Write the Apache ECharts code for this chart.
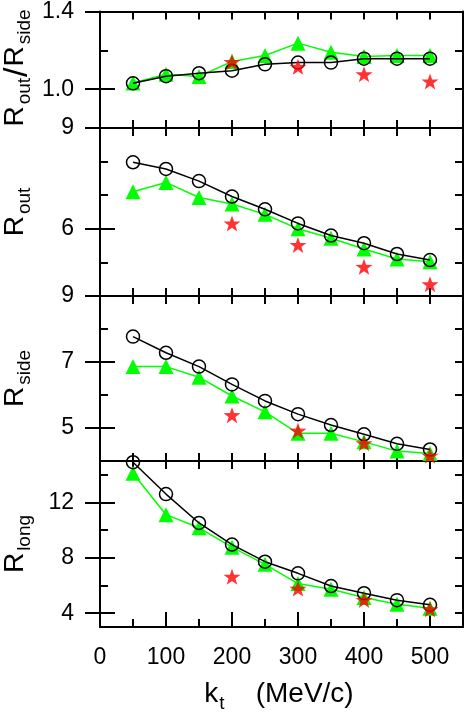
<!DOCTYPE html>
<html>
<head>
<meta charset="utf-8">
<script src="https://cdn.jsdelivr.net/npm/echarts@6/dist/echarts.min.js"></script>
<style>html,body{margin:0;padding:0;background:#fff}#c{width:464px;height:716px}</style>
</head>
<body>
<div id="c"></div>
<script>
// ---- data ----
const kt = [50, 100, 150, 200, 250, 300, 350, 400, 450, 500];
const ktStar = [200, 300, 400, 500];

const ratioCircle   = [1.030, 1.067, 1.082, 1.095, 1.128, 1.137, 1.137, 1.157, 1.157, 1.157];
const ratioTriangle = [1.032, 1.077, 1.065, 1.143, 1.173, 1.237, 1.190, 1.168, 1.173, 1.173];
const ratioStar     = [1.140, 1.115, 1.077, 1.040];

const routCircle   = [7.98, 7.78, 7.42, 6.96, 6.58, 6.16, 5.80, 5.57, 5.25, 5.07];
const routTriangle = [7.10, 7.38, 6.93, 6.74, 6.43, 6.00, 5.72, 5.40, 5.10, 5.02];
const routStar     = [6.16, 5.52, 4.87, 4.35];

const rsideCircle   = [7.77, 7.28, 6.86, 6.32, 5.82, 5.42, 5.09, 4.81, 4.52, 4.35];
const rsideTriangle = [6.86, 6.86, 6.54, 5.97, 5.49, 4.84, 4.84, 4.58, 4.30, 4.23];
const rsideStar     = [5.39, 4.92, 4.54, 4.16];

const rlongCircle   = [14.91, 12.61, 10.52, 8.96, 7.72, 6.88, 5.96, 5.44, 4.94, 4.60];
const rlongTriangle = [14.12, 11.12, 10.17, 8.77, 7.53, 6.14, 5.73, 5.13, 4.65, 4.36];
const rlongStar     = [6.64, 5.78, 4.96, 4.29];

// tick values / labels
const xMinorTicks = [50, 100, 150, 200, 250, 300, 350, 400, 450, 500];
const xLabels = [0, 100, 200, 300, 400, 500];
const ratioTicks = [1.0, 1.2], ratioLabels = [1.0, 1.4];
const routTicks = [5, 6, 7, 8], routLabels = [6, 9];
const rsideTicks = [5, 6, 7, 8], rsideLabels = [5, 7, 9];
const rlongTicks = [4, 6, 8, 10, 12, 14], rlongLabels = [4, 8, 12];

// ---- layout / style ----
const F = "'Liberation Sans', Arial, sans-serif";
const LW = 2;
const panels = [
  {top: 8,   height: 120, min: 0.8, max: 1.4, ticks: ratioTicks, labels: ratioLabels, fmt: v => v.toFixed(1),
   c: ratioCircle, t: ratioTriangle, s: ratioStar,
   title: '{b|R}{s|out}{sl|/}{b|R}{s|side}'},
  {top: 128, height: 168, min: 4, max: 9, ticks: routTicks, labels: routLabels, fmt: v => String(v),
   c: routCircle, t: routTriangle, s: routStar, title: '{b|R}{s|out}'},
  {top: 296, height: 165, min: 4, max: 9, ticks: rsideTicks, labels: rsideLabels, fmt: v => String(v),
   c: rsideCircle, t: rsideTriangle, s: rsideStar, title: '{b|R}{s|side}'},
  {top: 461, height: 166, min: 3, max: 15, ticks: rlongTicks, labels: rlongLabels, fmt: v => String(v),
   c: rlongCircle, t: rlongTriangle, s: rlongStar, title: '{b|R}{s|long}'}
];

const STAR = 'path://M50,0L61.76,33.82L97.55,34.55L69.02,56.18L79.39,90.45L50,70L20.61,90.45L30.98,56.18L2.45,34.55L38.24,33.82Z';

const grid = [], xAxis = [], yAxis = [], series = [], graphic = [];
const lineStyle = {color: '#000', width: LW};

const titleRich = {
  b: {fontSize: 28, fontFamily: F, verticalAlign: 'top', fill: '#000'},
  sl: {fontSize: 34, fontFamily: F, verticalAlign: 'top', padding: [0, 1, 0, 1], fill: '#000'},
  s: {fontSize: 19, fontFamily: F, verticalAlign: 'top', padding: [14, 0, 0, 2], fill: '#000'}
};

panels.forEach((p, g) => {
  grid.push({left: 100, width: 363, top: p.top, height: p.height});
  const xi = xAxis.length;
  const baseX = {gridIndex: g, type: 'value', min: 0, max: 550, splitLine: {show: false},
    axisLine: {show: true, onZero: false, lineStyle}, axisLabel: {show: false}};
  xAxis.push(Object.assign({}, baseX, {position: 'bottom',
    axisTick: {show: true, inside: true, length: 8, lineStyle, customValues: xMinorTicks}}));
  xAxis.push(Object.assign({}, baseX, {position: 'top',
    axisTick: {show: true, inside: true, length: 8, lineStyle, customValues: xMinorTicks}}));
  if (g === panels.length - 1) {
    xAxis.push(Object.assign({}, baseX, {position: 'bottom', axisLine: {show: false},
      axisTick: {show: true, inside: true, length: 15, lineStyle, customValues: xLabels},
      axisLabel: {show: true, customValues: xLabels, margin: 19, color: '#000', fontSize: 23, fontFamily: F}}));
  }
  const yi = yAxis.length;
  const baseY = {gridIndex: g, type: 'value', min: p.min, max: p.max, splitLine: {show: false},
    axisLine: {show: true, onZero: false, lineStyle}, axisLabel: {show: false}};
  ['left', 'right'].forEach(side => {
    yAxis.push(Object.assign({}, baseY, {position: side,
      axisTick: {show: true, inside: true, length: 8, lineStyle, customValues: p.ticks}}));
    yAxis.push(Object.assign({}, baseY, {position: side, axisLine: {show: false},
      axisTick: {show: true, inside: true, length: 15, lineStyle, customValues: p.labels},
      axisLabel: side === 'left' ? {show: true, customValues: p.labels, formatter: p.fmt, margin: 26,
        color: '#000', fontSize: 23, fontFamily: F} : {show: false}}));
  });

  series.push({type: 'line', xAxisIndex: xi, yAxisIndex: yi, clip: false, symbol: 'triangle', symbolSize: 15,
    data: kt.map((k, i) => [k, p.t[i]]), lineStyle: {color: '#00ff00', width: 1.5},
    itemStyle: {color: '#00ff00'}, z: 2, animation: false});
  series.push({type: 'line', xAxisIndex: xi, yAxisIndex: yi, clip: false, symbol: 'circle', symbolSize: 13,
    data: kt.map((k, i) => [k, p.c[i]]), lineStyle: {color: '#000', width: 1.5},
    itemStyle: {color: 'rgba(0,0,0,0)', borderColor: '#000', borderWidth: 1.5}, z: 3, animation: false});
  series.push({type: 'scatter', xAxisIndex: xi, yAxisIndex: yi, clip: false, symbol: STAR, symbolSize: [17, 16],
    data: ktStar.map((k, i) => [k, p.s[i]]), itemStyle: {color: '#ff0000'}, z: 4, animation: false});

  graphic.push({type: 'text', x: 18, y: p.top + p.height / 2, rotation: Math.PI / 2,
    style: {text: p.title, align: 'center', verticalAlign: 'middle', textAlign: 'center', textVerticalAlign: 'middle',
      rich: titleRich}});
});

graphic.push({type: 'text', x: 279, y: 697,
  style: {text: '{b|k}{s|t}{b|    (MeV/c)}', align: 'center', verticalAlign: 'middle', textAlign: 'center', textVerticalAlign: 'middle',
    rich: {
      b: {fontSize: 28, fontFamily: F, verticalAlign: 'top', fill: '#000'},
      s: {fontSize: 19, fontFamily: F, verticalAlign: 'top', padding: [14, 0, 0, 1], fill: '#000'}
    }}});

const chart = echarts.init(document.getElementById('c'), null, {renderer: 'canvas'});
chart.setOption({animation: false, backgroundColor: '#fff', grid, xAxis, yAxis, series, graphic});
</script>
</body>
</html>
